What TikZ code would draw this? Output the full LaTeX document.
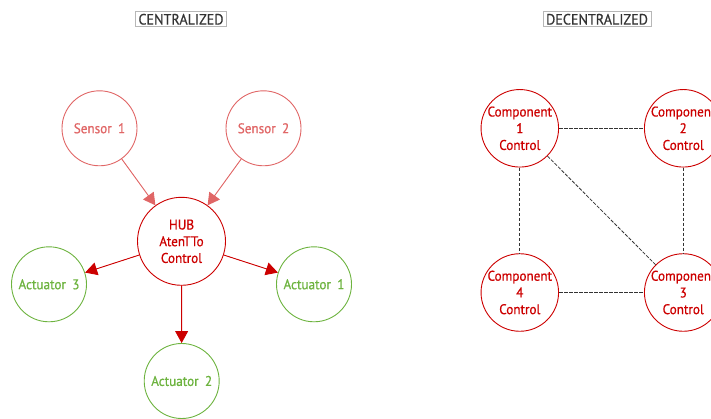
\documentclass[tikz,border=0pt]{standalone}
\usepackage{fontspec}
\setmainfont{PT Sans}[FakeStretch=0.94,FakeBold=0.6,WordSpace=1.8]
\usetikzlibrary{arrows.meta}
\definecolor{sens}{HTML}{E06666}
\definecolor{hubc}{HTML}{CC0000}
\definecolor{actc}{HTML}{6DB33F}
\definecolor{titc}{HTML}{333333}
\definecolor{titb}{HTML}{B7B7B7}
\begin{document}
\begin{tikzpicture}[x=1pt,y=-1pt,
  circ/.style={circle, draw, line width=0.9pt, inner sep=0pt, align=center, font=\fontsize{14}{16.7}\selectfont},
  sensorbox/.style={circ, draw=sens, text=sens, minimum size=75pt},
  hubbox/.style={circ, draw=hubc, text=hubc, minimum size=88pt},
  actbox/.style={circ, draw=actc, text=actc, minimum size=75pt},
  compbox/.style={circ, draw=hubc, text=hubc, minimum size=75pt},
  titlebox/.style={draw=titb, text=titc, line width=0.8pt, inner xsep=3pt, inner ysep=2pt, font=\fontsize{15}{17}\selectfont},
  sarrow/.style={draw=sens, line width=0.9pt, -{Triangle[length=12pt,width=13pt]}, fill=sens},
  harrow/.style={draw=hubc, line width=0.9pt, -{Triangle[length=12pt,width=13pt]}, fill=hubc},
  peer/.style={draw=titc, line width=0.8pt, dash pattern=on 3.5pt off 1.5pt}
]
\useasboundingbox (0,0) rectangle (711,419);
\node[titlebox] (t1) at (181,19.3) {CENTRALIZED};
\node[titlebox] (t2) at (597,19.3) {DECENTRALIZED};

\node[sensorbox] (s1) at (99.5,128.3) {Sensor 1};
\node[sensorbox] (s2) at (263.5,128.3) {Sensor 2};
\node[hubbox] (hub) at (181.5,241.3) {HUB\\AtenTTo\\Control};
\node[actbox] (a3) at (49,284.3) {Actuator 3};
\node[actbox] (a1) at (314,284.3) {Actuator 1};
\node[actbox] (a2) at (181.7,381) {Actuator 2};

\draw[sarrow] (s1) -- (hub);
\draw[sarrow] (s2) -- (hub);
\draw[harrow] (hub) -- (a3);
\draw[harrow] (hub) -- (a1);
\draw[harrow] (hub) -- (a2);

\node[compbox] (c1) at (519.8,128.3) {Component\\1\\Control};
\node[compbox] (c2) at (683.2,128.3) {Component\\2\\Control};
\node[compbox] (c4) at (519.8,292.5) {Component\\4\\Control};
\node[compbox] (c3) at (683.2,292.5) {Component\\3\\Control};

\draw[peer] (c1) -- (c2);
\draw[peer] (c1) -- (c4);
\draw[peer] (c2) -- (c3);
\draw[peer] (c4) -- (c3);
\draw[peer] (c1) -- (c3);
\end{tikzpicture}
\end{document}
